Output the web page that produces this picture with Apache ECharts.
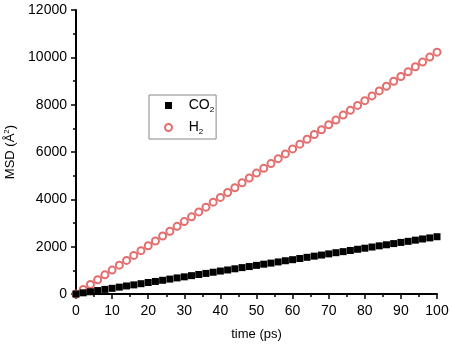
<!DOCTYPE html>
<html><head><meta charset="utf-8">
<script src="https://cdn.jsdelivr.net/npm/echarts@6/dist/echarts.min.js"></script>
<style>html,body{margin:0;padding:0;background:#fff}#c{width:454px;height:347px}</style>
</head><body><div id="c"></div>
<script>
const times = [0,2,4,6,8,10,12,14,16,18,20,22,24,26,28,30,32,34,36,38,40,42,44,46,48,50,52,54,56,58,60,62,64,66,68,70,72,74,76,78,80,82,84,86,88,90,92,94,96,98,100];
const h2 = [0,190,400,600,810,1010,1220,1420,1630,1830,2040,2240,2450,2650,2860,3060,3260,3470,3670,3880,4080,4290,4490,4700,4900,5110,5310,5510,5720,5920,6130,6330,6540,6740,6940,7150,7350,7560,7760,7970,8170,8370,8580,8780,8990,9190,9390,9600,9800,10010,10220];
const co2 = [0,50,95,145,195,240,290,340,385,435,485,530,580,630,680,725,775,825,870,920,970,1015,1065,1115,1160,1210,1260,1305,1355,1405,1450,1500,1550,1600,1645,1695,1745,1790,1840,1890,1935,1985,2035,2080,2130,2180,2225,2275,2325,2370,2420];
const xTicks = [0,10,20,30,40,50,60,70,80,90,100];
const yTicks = [0,2000,4000,6000,8000,10000,12000];

const font = 'Liberation Sans, Arial, sans-serif';
const chart = echarts.init(document.getElementById('c'));
const axisCommon = {
  axisLine: {show: true, lineStyle: {color: '#000', width: 2}},
  axisTick: {show: true, inside: false, length: 5, lineStyle: {color: '#000', width: 1.5}},
  minorTick: {show: true, splitNumber: 2, length: 3, lineStyle: {color: '#000', width: 1.5}},
  splitLine: {show: false},
  axisLabel: {color: '#000', fontSize: 14, fontFamily: font},
  nameTextStyle: {color: '#000', fontSize: 13, fontFamily: font}
};
chart.setOption({
  animation: false,
  grid: {left: 76, right: 17, top: 10, bottom: 53, containLabel: false, outerBoundsMode: 'none'},
  legend: {
    orient: 'vertical', left: 149, top: 95,
    borderColor: '#888', borderWidth: 1, padding: [2, 2, 3, 15], itemGap: 5,
    itemWidth: 7, itemHeight: 7,
    formatter: function(n){ return n === 'CO2' ? '{a|   CO}{s|2}' : '{a|   H}{s|2}'; },
    data: [{name: 'CO2', icon: 'rect'}, {name: 'H2', icon: 'emptyCircle'}],
    textStyle: {rich: {a: {fontSize: 14, fontFamily: font, color: '#000', lineHeight: 17}, s: {fontSize: 8, fontFamily: font, color: '#000', lineHeight: 17, verticalAlign: 'bottom', padding: [9,0,0,0]}}}
  },
  xAxis: Object.assign({}, axisCommon, {
    type: 'value', min: 0, max: 100, interval: 10,
    name: 'time (ps)', nameLocation: 'middle', nameGap: 34,
    axisLabel: Object.assign({}, axisCommon.axisLabel, {margin: 10, formatter: v => xTicks.includes(v) ? String(v) : ''})
  }),
  yAxis: Object.assign({}, axisCommon, {
    type: 'value', min: 0, max: 12000, interval: 2000,
    name: '{a|MSD (Å}{s|2}{a|)}', nameLocation: 'middle', nameGap: 54, nameRotate: 90,
    nameTextStyle: {rich: {a: {fontSize: 13, fontFamily: font, color: '#000'}, s: {fontSize: 8, fontFamily: font, color: '#000', verticalAlign: 'top', padding: [0,0,8,0]}}},
    axisLabel: Object.assign({}, axisCommon.axisLabel, {margin: 9, formatter: v => yTicks.includes(v) ? String(v) : ''})
  }),
  series: [
    {name: 'CO2', type: 'scatter', symbol: 'rect', symbolSize: 7,
     itemStyle: {color: '#000', opacity: 1}, data: times.map((t, i) => [t, co2[i]]), z: 3},
    {name: 'H2', type: 'scatter', symbol: 'emptyCircle', symbolSize: 7,
     itemStyle: {color: '#e36e6e', borderWidth: 1, opacity: 1}, data: times.map((t, i) => [t, h2[i]]), z: 2}
  ]
});
</script></body></html>
